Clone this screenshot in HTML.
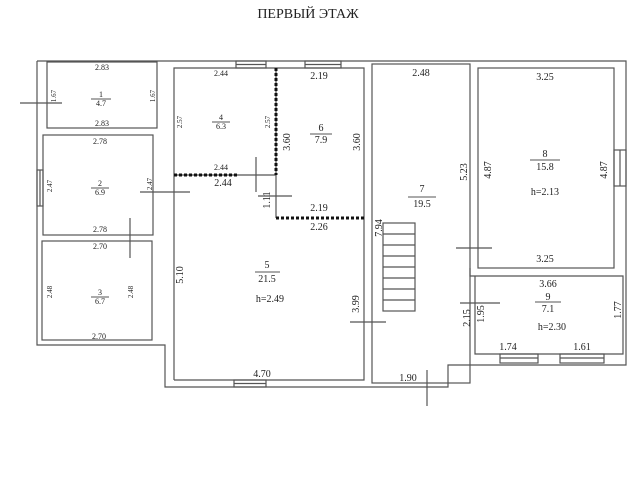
<!DOCTYPE html>
<html><head><meta charset="utf-8"><style>
body{margin:0;background:#fff}
svg{display:block}
text{font-family:"Liberation Serif",serif;fill:#222}
</style></head><body>
<svg width="640" height="480" viewBox="0 0 640 480" xmlns="http://www.w3.org/2000/svg">
<rect width="640" height="480" fill="#fff"/>
<text x="308" y="18" font-size="14" text-anchor="middle">ПЕРВЫЙ ЭТАЖ</text>
<g fill="none" stroke="#555" stroke-width="1.2">
<polyline points="37,61 626,61 626,365 448,365 448,387 165,387 165,345 37,345 37,61"/>
<rect x="47" y="62" width="110" height="66"/>
<rect x="43" y="135" width="110" height="100"/>
<rect x="42" y="241" width="110" height="99"/>
<polyline points="174,380 174,68 364,68 364,380 174,380"/>
<line x1="174" y1="175" x2="276" y2="175"/>
<line x1="276" y1="68" x2="276" y2="218"/>
<rect x="372" y="64" width="98" height="319"/>
<rect x="478" y="68" width="136" height="200"/>
<polyline points="470,268 470,276 623,276 623,354 475,354 475,276"/>
<rect x="383" y="223" width="32" height="88"/>
<line x1="383" y1="234" x2="415" y2="234"/><line x1="383" y1="245" x2="415" y2="245"/>
<line x1="383" y1="256" x2="415" y2="256"/><line x1="383" y1="267" x2="415" y2="267"/>
<line x1="383" y1="278" x2="415" y2="278"/><line x1="383" y1="289" x2="415" y2="289"/>
<line x1="383" y1="300" x2="415" y2="300"/>
<rect x="236" y="61" width="30" height="7"/><line x1="236" y1="64.5" x2="266" y2="64.5"/>
<rect x="305" y="61" width="36" height="7"/><line x1="305" y1="64.5" x2="341" y2="64.5"/>
<rect x="234" y="380" width="32" height="7"/><line x1="234" y1="383.5" x2="266" y2="383.5"/>
<rect x="37" y="170" width="6" height="36"/><line x1="40" y1="170" x2="40" y2="206"/>
<rect x="614" y="150" width="12" height="36"/><line x1="620" y1="150" x2="620" y2="186"/>
<rect x="500" y="354" width="38" height="9"/><line x1="500" y1="358" x2="538" y2="358"/>
<rect x="560" y="354" width="44" height="9"/><line x1="560" y1="358" x2="604" y2="358"/>
<line x1="20" y1="103" x2="62" y2="103"/>
<line x1="140" y1="192" x2="190" y2="192"/>
<line x1="130" y1="218" x2="130" y2="258"/>
<line x1="256" y1="157" x2="256" y2="192"/>
<line x1="258" y1="196" x2="292" y2="196"/>
<line x1="350" y1="322" x2="386" y2="322"/>
<line x1="456" y1="248" x2="492" y2="248"/>
<line x1="460" y1="303" x2="500" y2="303"/>
<line x1="427" y1="370" x2="427" y2="406"/>
</g>
<g stroke="#111" stroke-width="3" stroke-dasharray="3,2">
<line x1="276" y1="68" x2="276" y2="175"/>
<line x1="276" y1="218" x2="364" y2="218"/>
<line x1="174" y1="175" x2="238" y2="175"/>
</g>
<g font-size="8" text-anchor="middle">
<text x="102" y="70">2.83</text><text x="102" y="126">2.83</text>
<text x="101" y="97">1</text><text x="101" y="106">4.7</text>
<text x="100" y="144">2.78</text><text x="100" y="232">2.78</text>
<text x="100" y="186">2</text><text x="100" y="195">6.9</text>
<text x="100" y="249">2.70</text><text x="99" y="339">2.70</text>
<text x="100" y="295">3</text><text x="100" y="304">6.7</text>
<text x="221" y="76">2.44</text><text x="221" y="120">4</text><text x="221" y="129">6.3</text>
<text x="221" y="170">2.44</text>
</g>
<g font-size="7">
<text transform="translate(56,96) rotate(-90)" text-anchor="middle">1.67</text>
<text transform="translate(155,96) rotate(-90)" text-anchor="middle">1.67</text>
<text transform="translate(52,186) rotate(-90)" text-anchor="middle">2.47</text>
<text transform="translate(152,184) rotate(-90)" text-anchor="middle">2.47</text>
<text transform="translate(52,292) rotate(-90)" text-anchor="middle">2.48</text>
<text transform="translate(133,292) rotate(-90)" text-anchor="middle">2.48</text>
<text transform="translate(182,122) rotate(-90)" text-anchor="middle">2.57</text>
<text transform="translate(270,122) rotate(-90)" text-anchor="middle">2.57</text>
</g>
<g font-size="10" text-anchor="middle">
<text x="319" y="79">2.19</text><text x="321" y="131">6</text><text x="321" y="143">7.9</text>
<text x="223" y="186">2.44</text><text x="319" y="211">2.19</text><text x="319" y="230">2.26</text>
<text x="267" y="268">5</text><text x="267" y="282">21.5</text><text x="270" y="302">h=2.49</text>
<text x="262" y="377">4.70</text>
<text x="421" y="76">2.48</text><text x="422" y="192">7</text><text x="422" y="207">19.5</text>
<text x="545" y="80">3.25</text><text x="545" y="157">8</text><text x="545" y="170">15.8</text><text x="545" y="195">h=2.13</text>
<text x="545" y="262">3.25</text>
<text x="548" y="287">3.66</text><text x="548" y="300">9</text><text x="548" y="312">7.1</text><text x="552" y="330">h=2.30</text>
<text x="508" y="350">1.74</text><text x="582" y="350">1.61</text>
<text x="408" y="381">1.90</text>
<text transform="translate(290,142) rotate(-90)">3.60</text>
<text transform="translate(360,142) rotate(-90)">3.60</text>
<text transform="translate(270,200) rotate(-90)">1.11</text>
<text transform="translate(183,275) rotate(-90)">5.10</text>
<text transform="translate(359,304) rotate(-90)">3.99</text>
<text transform="translate(382,228) rotate(-90)">7.94</text>
<text transform="translate(467,172) rotate(-90)">5.23</text>
<text transform="translate(491,170) rotate(-90)">4.87</text>
<text transform="translate(607,170) rotate(-90)">4.87</text>
<text transform="translate(470,318) rotate(-90)">2.15</text>
<text transform="translate(484,314) rotate(-90)">1.95</text>
<text transform="translate(621,310) rotate(-90)">1.77</text>
</g>
<g stroke="#555" stroke-width="1" fill="none">
<line x1="255" y1="272" x2="280" y2="272"/>
<line x1="310" y1="134" x2="332" y2="134"/><line x1="408" y1="197" x2="436" y2="197"/>
<line x1="530" y1="160" x2="560" y2="160"/><line x1="535" y1="302" x2="561" y2="302"/>
<line x1="91" y1="99" x2="111" y2="99"/><line x1="91" y1="188" x2="109" y2="188"/>
<line x1="91" y1="297" x2="109" y2="297"/><line x1="212" y1="122" x2="230" y2="122"/>
</g>
</svg>
</body></html>
